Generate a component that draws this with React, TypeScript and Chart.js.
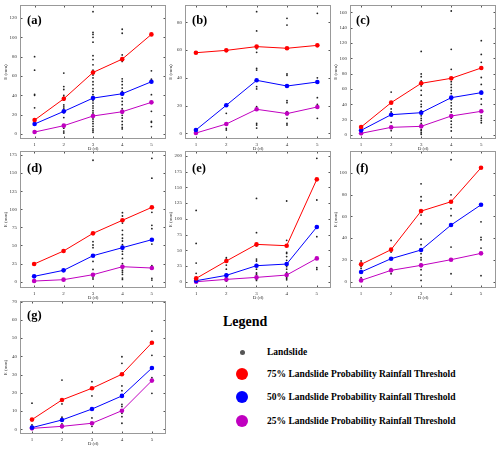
import React, { useEffect, useRef } from "react";
import { Chart, registerables } from "chart.js";
Chart.register(...registerables);

const SERIF = "'Liberation Serif', 'Times New Roman', serif";
const DAYS = [1, 2, 3, 4, 5];

// Panel (a)
const A_P75 = [14.4, 36.4, 63.6, 77.4, 103];
const A_P50 = [10.3, 23.4, 37.1, 41.6, 54];
const A_P25 = [2, 8.6, 18.6, 23, 32.7];
const A_SLIDES = [
  [80, 66, 41, 40, 27],
  [63, 49, 46, 40, 38, 35, 30, 28, 26, 22, 17, 6, 3, 1],
  [126.5, 105, 103, 100, 95, 81, 77, 71.5, 66, 61, 58, 54, 51, 47, 44, 40.6, 38, 34.4, 32, 29, 26.8, 24, 21.7, 18.2, 15.5, 13, 10.7, 7.9, 5.2, 3.4, 1.7],
  [108.3, 104.2, 81.8, 77.7, 75, 57, 54.3, 51, 47.5, 44, 40.6, 37.1, 33.7, 30.3, 26.1, 24, 21.7, 19.3, 16.5, 13, 9.6, 6.9, 5.2],
  [65.3, 56.7, 40.6, 23.4, 13, 12, 7.6],
];
const A_YTICKS = [0, 20, 40, 60, 80, 100, 120];

// Panel (b)
const B_P75 = [58.1, 59.8, 62.5, 61.3, 63.4];
const B_P50 = [2.4, 20.2, 38.2, 34.1, 37];
const B_P25 = [0.2, 6.7, 17.3, 14.2, 19];
const B_SLIDES = [
  [],
  [14.4, 3.6, 2.4],
  [87.7, 73.8, 61, 58.4, 46.8, 45.6, 33.6, 32, 19.2, 17.5, 7.2, 6, 3.8],
  [82.9, 78, 42.8, 41.8, 23.5, 22.1, 15.6, 10.8, 7.2, 6],
  [86.5, 40, 25.7, 20.9, 10.8],
];
const B_YTICKS = [0, 20, 40, 60, 80];

// Panel (c)
const C_P75 = [10.4, 42.2, 67.4, 73.9, 87.4];
const C_P50 = [6.1, 26.5, 29.1, 48.7, 55.2];
const C_P25 = [2.2, 10, 11.3, 24.8, 30.9];
const C_SLIDES = [
  [4, 1],
  [56, 34, 30, 26, 16.5, 5.7],
  [109, 79.6, 76, 70.4, 64, 58.3, 52, 44.3, 40, 37, 31.7, 28, 25, 21.7, 19, 15.2, 13, 10, 7, 5.7, 3, 1],
  [161.7, 111.7, 85.7, 69.6, 66, 62, 58, 54, 50, 46, 42, 38, 34, 30, 26, 22, 18, 13.9, 10, 5.2],
  [123, 105, 94.8, 86, 75, 66, 57, 47, 40, 32, 25, 22, 19, 16],
];
const C_YTICKS = [0, 20, 40, 60, 80, 100, 120, 140, 160];

// Panel (d)
const D_P75 = [24.4, 42.4, 66.8, 84.8, 102.7];
const D_P50 = [7.4, 15.7, 35.9, 47, 58];
const D_P25 = [0.9, 2.8, 9.7, 20.7, 18.9];
const D_SLIDES = [
  [],
  [],
  [167.7, 55.3, 50.7, 47, 28, 17, 9.2, 6.4, 3.7],
  [95.3, 90.7, 81, 71, 65, 60, 56.2, 51.1, 45, 42, 38, 32.2, 24.9, 21, 18, 15.2, 13, 10.1, 5, 3.2],
  [170.4, 143, 95.8, 77.8, 73.2, 52, 22, 20, 4.6, 2.3],
];
const D_YTICKS = [0, 25, 50, 75, 100, 125, 150, 175];

// Panel (e)
const E_P75 = [5.3, 32.9, 59.4, 57.3, 162.9];
const E_P50 = [1.6, 10.1, 25.5, 28.1, 87];
const E_P25 = [0, 3.7, 6.9, 10.6, 37.1];
const E_SLIDES = [
  [113.5, 61, 29.7, 13.3],
  [38.2, 36, 34, 26.5, 20, 12, 9, 6, 3, 1],
  [132.6, 78, 57, 36, 33, 27, 20, 14, 12, 9, 6, 4, 2],
  [128.4, 65.8, 46.7, 45, 40, 34, 28, 24, 20, 15, 12, 9, 7, 5, 3],
  [196.3, 130, 71.6, 22.3, 19.6],
];
const E_YTICKS = [0, 25, 50, 75, 100, 125, 150, 175, 200];

// Panel (f)
const F_P75 = [15.9, 29.4, 64.8, 73.4, 104.6];
const F_P50 = [8.9, 21.1, 29.1, 52, 70.6];
const F_P25 = [1.2, 10.4, 15, 20.2, 26];
const F_SLIDES = [
  [19, 17, 14, 12.2, 3.7],
  [37.9, 27.2, 11.9, 7.3],
  [89.9, 78, 74.3, 61.2, 53.2, 39, 34, 29, 25.7, 22, 20, 16.2, 14, 11, 6.1, 1.2],
  [112, 79.8, 67, 60.6, 31.8, 7.3],
  [55, 40.7, 38.5, 30.9, 5.5],
];
const F_YTICKS = [0, 20, 40, 60, 80, 100];

// Panel (g)
const G_P75 = [5.3, 16.1, 22.5, 30.2, 47.5];
const G_P50 = [0.9, 5.1, 11.1, 18.3, 33.6];
const G_P25 = [0.5, 1.6, 3.3, 10.2, 26.7];
const G_SLIDES = [
  [14.3, 2.4, 1],
  [27, 13.9, 6.6, 5.5, 3, 1.8, 1],
  [26.1, 18.3, 6.2, 3, 1.6],
  [39.8, 36.2, 23.8, 21.2, 13.7, 12.5, 8.8, 6.9, 3.3],
  [53.9, 40.6, 28.3, 27, 19.7],
];
const G_YTICKS = [0, 10, 20, 30, 40, 50, 60, 70];

const RED = "#ff0000";
const BLUE = "#0000ff";
const PURPLE = "#c000c0";

type PanelCfg = {
  label: string;
  left: number;
  top: number;
  h: number;
  xMin: number;
  xMax: number;
  yMin: number;
  yMax: number;
  yTicks: number[];
  p75: number[];
  p50: number[];
  p25: number[];
  slides: number[][];
  labelTop: number;
  labelLeft: number;
};

const PANELS: PanelCfg[] = [
  { label: "(a)", left: 20, top: 5, h: 134, xMin: 0.5, xMax: 5.5, yMin: -5.2, yMax: 133.4, yTicks: A_YTICKS, p75: A_P75, p50: A_P50, p25: A_P25, slides: A_SLIDES, labelTop: 14, labelLeft: 27 },
  { label: "(b)", left: 185, top: 5, h: 134, xMin: 0.64, xMax: 5.45, yMin: -4.1, yMax: 92.5, yTicks: B_YTICKS, p75: B_P75, p50: B_P50, p25: B_P25, slides: B_SLIDES, labelTop: 14, labelLeft: 192 },
  { label: "(c)", left: 350, top: 5, h: 134, xMin: 0.63, xMax: 5.49, yMin: -5.2, yMax: 169.5, yTicks: C_YTICKS, p75: C_P75, p50: C_P50, p25: C_P25, slides: C_SLIDES, labelTop: 14, labelLeft: 356 },
  { label: "(d)", left: 20, top: 151, h: 137, xMin: 0.52, xMax: 5.48, yMin: -8.7, yMax: 180.5, yTicks: D_YTICKS, p75: D_P75, p50: D_P50, p25: D_P25, slides: D_SLIDES, labelTop: 162, labelLeft: 27 },
  { label: "(e)", left: 185, top: 151, h: 137, xMin: 0.63, xMax: 5.47, yMin: -10, yMax: 208, yTicks: E_YTICKS, p75: E_P75, p50: E_P50, p25: E_P25, slides: E_SLIDES, labelTop: 162, labelLeft: 192 },
  { label: "(f)", left: 350, top: 151, h: 137, xMin: 0.63, xMax: 5.5, yMin: -5.8, yMax: 120, yTicks: F_YTICKS, p75: F_P75, p50: F_P50, p25: F_P25, slides: F_SLIDES, labelTop: 162, labelLeft: 356 },
  { label: "(g)", left: 20, top: 301, h: 133, xMin: 0.6, xMax: 5.47, yMin: -2.6, yMax: 70.4, yTicks: G_YTICKS, p75: G_P75, p50: G_P50, p25: G_P25, slides: G_SLIDES, labelTop: 309, labelLeft: 27 },
];

const BOX_W = 146;
const Y_AXIS_W = 20;
const TOP_PAD = 6;
const RIGHT_PAD = 4;
const X_AXIS_H = 14;

const framePlugin = {
  id: "frame",
  beforeDatasetsDraw(chart: any) {
    const { ctx, chartArea: a, scales } = chart;
    const x = scales.x;
    const y = scales.y;
    ctx.save();
    const L = Math.round(a.left) + 0.5;
    const R = Math.round(a.right) - 0.5;
    const T = Math.round(a.top) + 0.5;
    const B = Math.round(a.bottom) - 0.5;
    ctx.beginPath();
    ctx.strokeStyle = "#555";
    ctx.lineWidth = 1;
    for (const t of x.ticks) {
      const px = Math.round(x.getPixelForValue(t.value)) + 0.5;
      ctx.moveTo(px, B);
      ctx.lineTo(px, B - 2);
      ctx.moveTo(px, T);
      ctx.lineTo(px, T + 2);
    }
    for (const t of y.ticks) {
      const py = Math.round(y.getPixelForValue(t.value)) + 0.5;
      ctx.moveTo(L, py);
      ctx.lineTo(L + 2, py);
      ctx.moveTo(R, py);
      ctx.lineTo(R - 2, py);
    }
    ctx.stroke();
    ctx.strokeStyle = "#999";
    ctx.strokeRect(L, T, R - L, B - T);
    ctx.restore();
  },
};

function lineDataset(vals: number[], color: string) {
  return {
    data: DAYS.map((d, i) => ({ x: d, y: vals[i] })),
    showLine: true,
    borderColor: color,
    backgroundColor: color,
    borderWidth: 1,
    pointRadius: 2.3,
    pointStyle: "circle",
    pointBorderWidth: 0,
  };
}

function Panel({ cfg }: { cfg: PanelCfg }) {
  const ref = useRef<HTMLCanvasElement>(null);
  useEffect(() => {
    const slidePts: { x: number; y: number }[] = [];
    cfg.slides.forEach((vals, i) => vals.forEach((v) => slidePts.push({ x: DAYS[i], y: v })));
    const tickFont = { family: SERIF, size: 5 };
    const chart = new Chart(ref.current!, {
      type: "scatter",
      data: {
        datasets: [
          lineDataset(cfg.p75, RED),
          lineDataset(cfg.p50, BLUE),
          lineDataset(cfg.p25, PURPLE),
          {
            data: slidePts,
            showLine: false,
            backgroundColor: "#222",
            borderColor: "#222",
            pointRadius: 0.9,
            pointBorderWidth: 0,
          },
        ] as any,
      },
      options: {
        animation: false,
        responsive: false,
        events: [],
        layout: { padding: { top: TOP_PAD, right: RIGHT_PAD, left: 0, bottom: 0 }, autoPadding: false },
        plugins: { legend: { display: false }, tooltip: { enabled: false } },
        scales: {
          x: {
            type: "linear",
            min: cfg.xMin,
            max: cfg.xMax,
            afterBuildTicks: (s: any) => {
              s.ticks = DAYS.map((v) => ({ value: v }));
            },
            afterFit: (s: any) => {
              s.height = X_AXIS_H;
            },
            grid: { display: false, drawTicks: false },
            border: { display: false },
            ticks: { font: tickFont, color: "#333", padding: 3, maxRotation: 0, autoSkip: false },
            title: { display: true, text: "D (d)", font: tickFont, color: "#333", padding: { top: 0, bottom: 1 } },
          },
          y: {
            type: "linear",
            min: cfg.yMin,
            max: cfg.yMax,
            afterBuildTicks: (s: any) => {
              s.ticks = cfg.yTicks.map((v) => ({ value: v }));
            },
            afterFit: (s: any) => {
              s.width = Y_AXIS_W;
            },
            grid: { display: false, drawTicks: false },
            border: { display: false },
            ticks: { font: tickFont, color: "#333", padding: 3, autoSkip: false },
            title: { display: true, text: "E (mm)", font: tickFont, color: "#333", padding: { top: 3, bottom: 0 } },
          },
        },
      } as any,
      plugins: [framePlugin],
    });
    return () => chart.destroy();
  }, []);
  const w = Y_AXIS_W + BOX_W + RIGHT_PAD;
  const h = TOP_PAD + cfg.h + X_AXIS_H;
  return (
    <>
      <canvas
        ref={ref}
        width={w}
        height={h}
        style={{ position: "absolute", left: cfg.left - Y_AXIS_W, top: cfg.top - TOP_PAD, width: w, height: h }}
      />
      <div
        style={{
          position: "absolute",
          left: cfg.labelLeft,
          top: cfg.labelTop,
          fontFamily: SERIF,
          fontWeight: "bold",
          fontSize: 12.5,
          lineHeight: 1,
          color: "#000",
          whiteSpace: "nowrap",
        }}
      >
        {cfg.label}
      </div>
    </>
  );
}

const LEGEND_ITEMS = [
  { text: "Landslide", color: "#555", size: 5, y: 352 },
  { text: "75% Landslide Probability Rainfall Threshold", color: RED, size: 12, y: 374 },
  { text: "50% Landslide Probability Rainfall Threshold", color: BLUE, size: 12, y: 397 },
  { text: "25% Landslide Probability Rainfall Threshold", color: PURPLE, size: 12, y: 421 },
];

export default function App() {
  return (
    <div style={{ position: "absolute", left: 0, top: 0, width: 500, height: 451, background: "#fff", overflow: "hidden" }}>
      {PANELS.map((p) => (
        <Panel key={p.label} cfg={p} />
      ))}
      <div
        style={{
          position: "absolute",
          left: 223,
          top: 315,
          fontFamily: SERIF,
          fontWeight: "bold",
          fontSize: 14,
          lineHeight: 1,
          color: "#000",
        }}
      >
        Legend
      </div>
      {LEGEND_ITEMS.map((it) => (
        <React.Fragment key={it.text}>
          <div
            style={{
              position: "absolute",
              left: 242 - it.size / 2,
              top: it.y - it.size / 2,
              width: it.size,
              height: it.size,
              borderRadius: "50%",
              background: it.color,
            }}
          />
          <div
            style={{
              position: "absolute",
              left: 267,
              top: it.y - 6,
              height: 12,
              lineHeight: "12px",
              fontFamily: SERIF,
              fontWeight: "bold",
              fontSize: 9.5,
              color: "#000",
              whiteSpace: "nowrap",
            }}
          >
            {it.text}
          </div>
        </React.Fragment>
      ))}
    </div>
  );
}
